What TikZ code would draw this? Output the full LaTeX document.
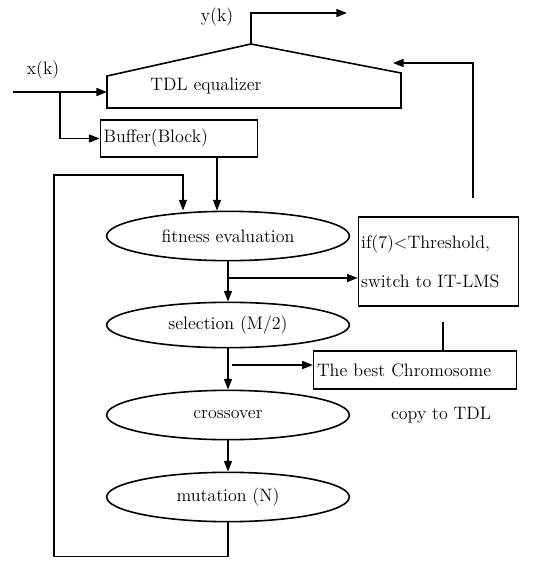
\documentclass[tikz,border=0pt]{standalone}
\usepackage{tikz}
\usetikzlibrary{shapes.geometric,arrows.meta}

\begin{document}
\begin{tikzpicture}[x=0.75pt,y=-0.75pt,line width=1.2pt,>={Triangle[length=8pt,width=6pt]},font=\fontsize{13.5}{15}\selectfont,
ell/.style={draw,ellipse,minimum width=182pt,minimum height=37pt,inner sep=0pt},
box/.style={draw,rectangle,inner sep=2.5pt,align=left}]
\useasboundingbox (0,0) rectangle (560,561);
% TDL equalizer
\coordinate (tl) at (107,76);\coordinate (pk) at (251,44);\coordinate (tr) at (401,73);
\coordinate (br) at (401,108);\coordinate (bl) at (107,108);
\draw (tl)--(pk)--(tr)--(br)--(bl)--cycle;
\node (tdl) at (206,86){TDL equalizer};
\node (xk) at (43,70){x(k)};
\node (yk) at (217,17){y(k)};
% blocks
\node[box,text width=113pt,minimum height=27.75pt] (buf) at (179,138.5){Buffer(Block)};
\node[ell] (fit) at (228,236){fitness evaluation};
\node[ell,minimum height=34pt] (sel) at (228,325){selection (M/2)};
\node[ell] (cro) at (228,415){crossover};
\node[ell] (mut) at (228,497){mutation (N)};
\node[box,text width=116pt,minimum height=66.75pt,inner sep=2pt] (thr) at (438.5,261.5){if(7)\textless Threshold,\\[14pt]switch to IT-LMS};
\node[box,text width=147pt,minimum height=28.5pt] (best) at (415,370){The best Chromosome};
\node (copy) at (441,415){copy to TDL};
% connectors
\coordinate (xin) at (13,92);\coordinate (xs) at (60,92);\coordinate (tdlin) at (107,92);
\draw[->] (xin)--(tdlin);
\draw[->] (xs)|-(buf.west);
\coordinate (yout) at (347,13);
\draw[->] (pk)|-(yout);
\coordinate (fb) at (473,198);\coordinate (tdlfb) at (393,63);
\draw[->] (fb)|-(tdlfb);
\coordinate (b1) at (217,157);
\draw[->] (b1)--(b1|-fit.north);
\coordinate (lp) at (54,175);\coordinate (lpin) at (183,175);
\draw[->] (mut.south)--++(0,34)-|(lp)--(lpin)--(lpin|-fit.north);
\draw[->] (fit.south)--(sel.north);
\coordinate (s1) at (228,278);
\draw[->] (s1)--(s1-|thr.west);
\draw[->] (sel.south)--(cro.north);
\coordinate (s2) at (232,365);
\draw[->] (s2)--(s2-|best.west);
\draw[->] (cro.south)--(mut.north);
\coordinate (cp) at (443,322);
\draw (best.north-|cp)--(cp);
\end{tikzpicture}
\end{document}
